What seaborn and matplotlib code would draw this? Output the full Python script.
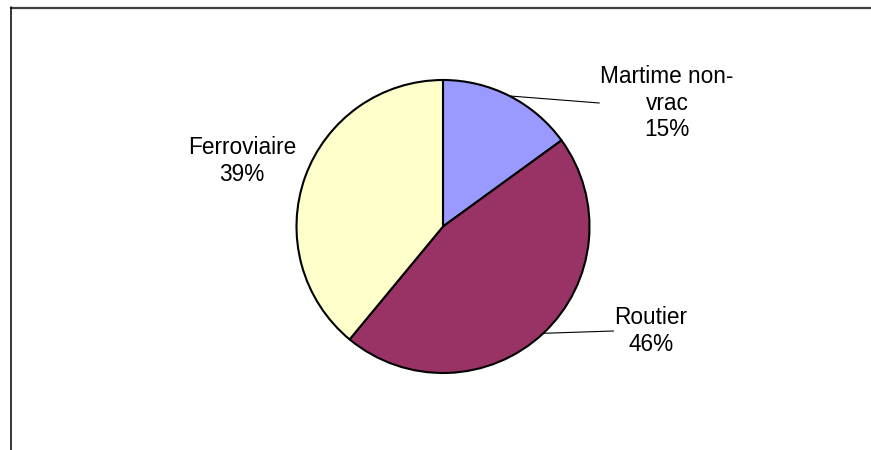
import numpy as np
import matplotlib
matplotlib.use("Agg")
import matplotlib.pyplot as plt
from matplotlib.lines import Line2D
import seaborn as sns

# Shares of freight traffic by mode
categories = ["Martime non-\nvrac", "Routier", "Ferroviaire"]
shares = [15, 46, 39]
colors = ["#9999FF", "#993366", "#FFFFCC"]

sns.set_theme(style="white")
plt.rcParams["font.family"] = ["Liberation Sans", "DejaVu Sans"]

W, H = 871, 450
fig = plt.figure(figsize=(W / 100, H / 100), dpi=100)
ax = fig.add_axes([0, 0, 1, 1])

cx, cy, r = 443, H - 226.5, 146.5
wedges, _ = ax.pie(
    shares, colors=colors, startangle=90, counterclock=False,
    center=(cx, cy), radius=r, frame=True,
    wedgeprops=dict(edgecolor="black", linewidth=1.5),
)
ax.set_xlim(0, W)
ax.set_ylim(0, H)
ax.set_aspect("equal")
ax.axis("off")

# label block centres and whether a leader line joins them to the slice
label_pos = [(667, H - 103), (651, H - 331), (242, H - 161)]
leaders = [True, True, False]
fs = 16.3
fig.canvas.draw()
for w, name, val, (lx, ly), lead in zip(wedges, categories, shares, label_pos, leaders):
    txt = f"{name}\n{val}%"
    t = ax.text(lx, ly, txt, ha="center", va="center", fontsize=fs,
                color="black", linespacing=1.22)
    if lead:
        mid = np.deg2rad((w.theta1 + w.theta2) / 2)
        sx, sy = cx + r * np.cos(mid), cy + r * np.sin(mid)
        fig.canvas.draw()
        bb = t.get_window_extent().transformed(ax.transData.inverted())
        ax.add_line(Line2D([sx, bb.x0 - 1], [sy, ly], color="black", lw=0.8))

# chart-area frame (top and left edges)
fig.add_artist(Line2D([11 / W, 1], [1 - 7.5 / H, 1 - 7.5 / H], transform=fig.transFigure,
                      color="#404040", lw=1.6))
fig.add_artist(Line2D([11 / W, 11 / W], [1 - 7 / H, 0], transform=fig.transFigure,
                      color="black", lw=1.1))

fig.savefig("out.png", dpi=100, facecolor="white")
